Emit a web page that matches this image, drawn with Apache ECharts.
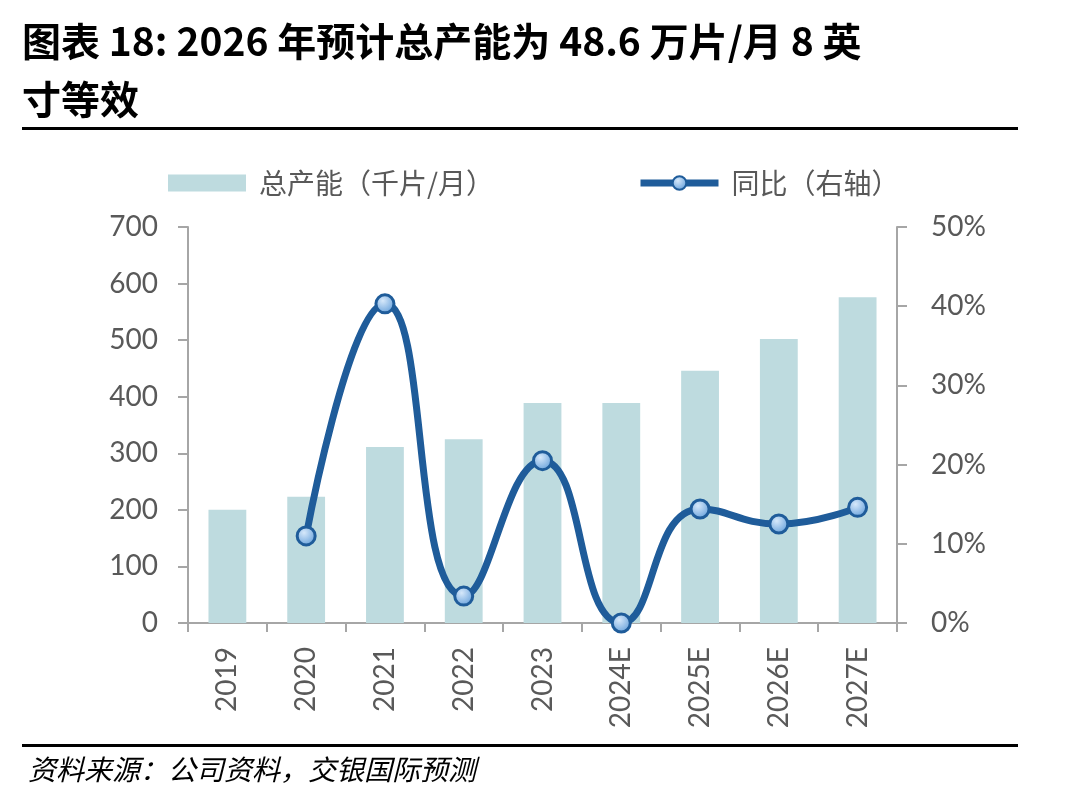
<!DOCTYPE html>
<html lang="zh" style="height: 100%">
<head>
  <meta charset="utf-8">
</head>
<body style="height: 100%; margin: 0; background: #fff">
<div id="container" style="width: 1092px; height: 799px"></div>
<script type="text/javascript" src="https://cdn.jsdelivr.net/npm/echarts@6/dist/echarts.min.js"></script>
<script type="text/javascript">
  // 数据
  var years = ['2019', '2020', '2021', '2022', '2023', '2024E', '2025E', '2026E', '2027E'];
  var capacity = [200, 223, 311, 325, 389, 389, 446, 502, 576];   // 千片/月
  var yoy = [null, 11.0, 40.3, 3.4, 20.5, 0, 14.4, 12.5, 14.6];    // %
  var leftTicks = [0, 700, 100];
  var rightTicks = [0, 50, 10];

  var cjk = '"Noto Sans CJK SC", sans-serif';
  var num = 'Lato, "Liberation Sans", sans-serif';
  var grey = '#595959';
  var axisGrey = '#A6A6A6';
  var lineBlue = '#1F5C9A';

  var dom = document.getElementById('container');
  var myChart = echarts.init(dom, null, { renderer: 'canvas' });

  var legendText = { fontFamily: cjk, fontSize: 28, color: grey, padding: [0, 0, 0, 8] };

  var option = {
    animation: false,
    backgroundColor: '#fff',
    graphic: [
      {
        type: 'text', left: 22, top: 12,
        style: {
          text: '图表 18: 2026 年预计总产能为 48.6 万片/月 8 英\n寸等效',
          font: 'bold 39px ' + cjk, fill: '#000', lineHeight: 58
        }
      },
      { type: 'rect', shape: { x: 22, y: 127, width: 996, height: 3 }, style: { fill: '#000' } },
      { type: 'rect', shape: { x: 22, y: 744, width: 996, height: 3 }, style: { fill: '#000' } },
      {
        type: 'text', left: 28, top: 755,
        style: {
          text: '资料来源：公司资料，交银国际预测',
          font: 'italic 28px ' + cjk, fill: '#000'
        }
      }
    ],
    legend: [
      {
        left: 163, top: 164,
        itemWidth: 78, itemHeight: 17,
        textStyle: legendText,
        data: [{ name: '总产能（千片/月）', icon: 'rect' }]
      },
      {
        left: 632, top: 164,
        itemWidth: 78, itemHeight: 17,
        textStyle: legendText,
        lineStyle: { width: 7 },
        data: [{ name: '同比（右轴）' }]
      }
    ],
    grid: { left: 188, right: 195, top: 227, bottom: 176 },
    xAxis: {
      type: 'category',
      data: years,
      axisLine: { lineStyle: { color: axisGrey, width: 2 } },
      axisTick: { show: true, length: 9, lineStyle: { color: axisGrey, width: 2 } },
      axisLabel: { rotate: 90, fontFamily: num, fontSize: 28, color: grey, margin: 24 }
    },
    yAxis: [
      {
        type: 'value', min: leftTicks[0], max: leftTicks[1], interval: leftTicks[2],
        splitLine: { show: false },
        axisLine: { show: true, lineStyle: { color: axisGrey, width: 2 } },
        axisTick: { show: true, length: 10, lineStyle: { color: axisGrey, width: 2 } },
        axisLabel: { fontFamily: num, fontSize: 28, color: grey, margin: 30 }
      },
      {
        type: 'value', min: rightTicks[0], max: rightTicks[1], interval: rightTicks[2],
        splitLine: { show: false },
        axisLine: { show: true, lineStyle: { color: axisGrey, width: 2 } },
        axisTick: { show: true, length: 10, lineStyle: { color: axisGrey, width: 2 } },
        axisLabel: { fontFamily: num, fontSize: 28, color: grey, margin: 34, formatter: '{value}%' }
      }
    ],
    series: [
      {
        name: '总产能（千片/月）',
        type: 'bar',
        data: capacity,
        barWidth: '48%',
        itemStyle: { color: '#BEDBDF' }
      },
      {
        name: '同比（右轴）',
        type: 'line',
        yAxisIndex: 1,
        data: yoy,
        smooth: 0.5,
        symbol: 'circle',
        symbolSize: 18,
        lineStyle: { color: lineBlue, width: 7 },
        itemStyle: {
          color: new echarts.graphic.RadialGradient(0.4, 0.35, 0.7, [
            { offset: 0, color: '#D6E8FA' },
            { offset: 1, color: '#5E9BD8' }
          ]),
          borderColor: lineBlue,
          borderWidth: 3
        }
      }
    ]
  };

  myChart.setOption(option);
  window.addEventListener('resize', myChart.resize);
</script>
</body>
</html>
